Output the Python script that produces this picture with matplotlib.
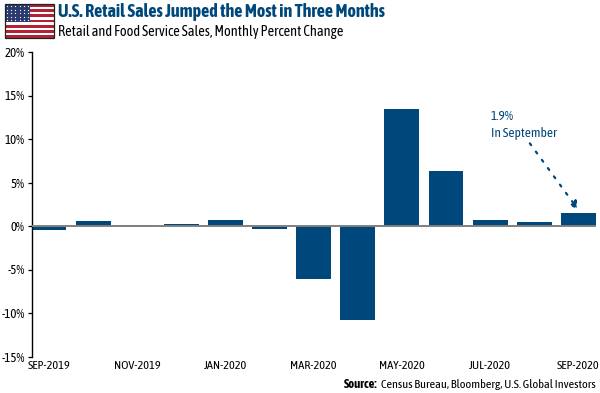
import matplotlib
matplotlib.use("Agg")
import matplotlib.pyplot as plt
from matplotlib.patches import Rectangle

plt.rcParams['font.family'] = ['Asap Condensed', 'Archivo Narrow', 'Liberation Sans', 'DejaVu Sans']

months = ['SEP-2019', 'OCT-2019', 'NOV-2019', 'DEC-2019', 'JAN-2020', 'FEB-2020', 'MAR-2020',
          'APR-2020', 'MAY-2020', 'JUN-2020', 'JUL-2020', 'AUG-2020', 'SEP-2020']
sales_change = [-0.5, 0.6, 0.1, 0.2, 0.65, -0.4, -6.07, -10.86, 13.47, 6.35, 0.67, 0.45, 1.44]
y_ticks = [-15, -10, -5, 0, 5, 10, 15, 20]

NAVY = '#00477b'
W, H = 600, 393

fig = plt.figure(figsize=(6, 3.93), dpi=100)
ax = fig.add_axes([31.5 / W, (H - 356.5) / H, (596 - 31.5) / W, (356.5 - 52) / H])

x = list(range(len(months)))
ax.bar(x, sales_change, width=0.79, color=NAVY, zorder=2)
ax.set_xlim(-0.397, 12.4)
ax.set_ylim(-15, 20)

ax.set_yticks(y_ticks)
ax.set_yticklabels([f'{v}%' for v in y_ticks], fontsize=9.3, color='black')
ax.tick_params(axis='y', length=3, width=0.9, pad=2)
ax.set_xticks(x[::2])
ax.set_xticklabels(months[::2], fontsize=8.8, color='black')
ax.tick_params(axis='x', length=0, pad=2.5)

for side in ['top', 'right', 'bottom']:
    ax.spines[side].set_visible(False)
ax.spines['left'].set_linewidth(1.0)
ax.axhline(0, color='#808080', linewidth=1.4, zorder=3)

# note with dotted arrow down to the last bar
ax.text(10.02, 11.6, '1.9%\nIn September', color=NAVY, fontsize=9.6, va='center', ha='left',
        linespacing=1.35)
ax.annotate('', xy=(12.0, 1.85), xytext=(10.9, 9.5),
            arrowprops=dict(arrowstyle='-|>', linestyle=(0, (1, 3.6)), color=NAVY, lw=1.6,
                            mutation_scale=12, shrinkA=0, shrinkB=0))

# titles and source
fig.text(58 / W, 1 - 12 / H, 'U.S. Retail Sales Jumped the Most in Three Months', color=NAVY,
         fontsize=13, fontweight='bold', va='center', ha='left')
fig.text(58 / W, 1 - 32 / H, 'Retail and Food Service Sales, Monthly Percent Change', color='black',
         fontsize=10.4, va='center', ha='left')
fig.text(344 / W, 1 - 384 / H, 'Source:', color='black', fontsize=9, fontweight='bold',
         va='center', ha='left')
fig.text(596 / W, 1 - 384 / H, 'Census Bureau, Bloomberg, U.S. Global Investors', color='black',
         fontsize=8.8, va='center', ha='right')

# flag
flag = fig.add_axes([5 / W, 1 - 38 / H, 49 / W, 34 / H])
flag.set_xlim(0, 49)
flag.set_ylim(13, 0)
flag.axis('off')
for i in range(13):
    flag.add_patch(Rectangle((0, i), 49, 1, color='#b22234' if i % 2 == 0 else 'white', lw=0))
flag.add_patch(Rectangle((0, 0), 25, 7, color='#2b3a6e', lw=0))
for row in range(5):
    for col in range(6):
        flag.plot(2 + col * 4.2, 0.8 + row * 1.35, '.', color='white', markersize=1.8, mew=0)
flag.add_patch(Rectangle((0, 0), 49, 13, fill=False, edgecolor='#222222', lw=0.9, clip_on=False))

fig.savefig('out.png', dpi=100)
